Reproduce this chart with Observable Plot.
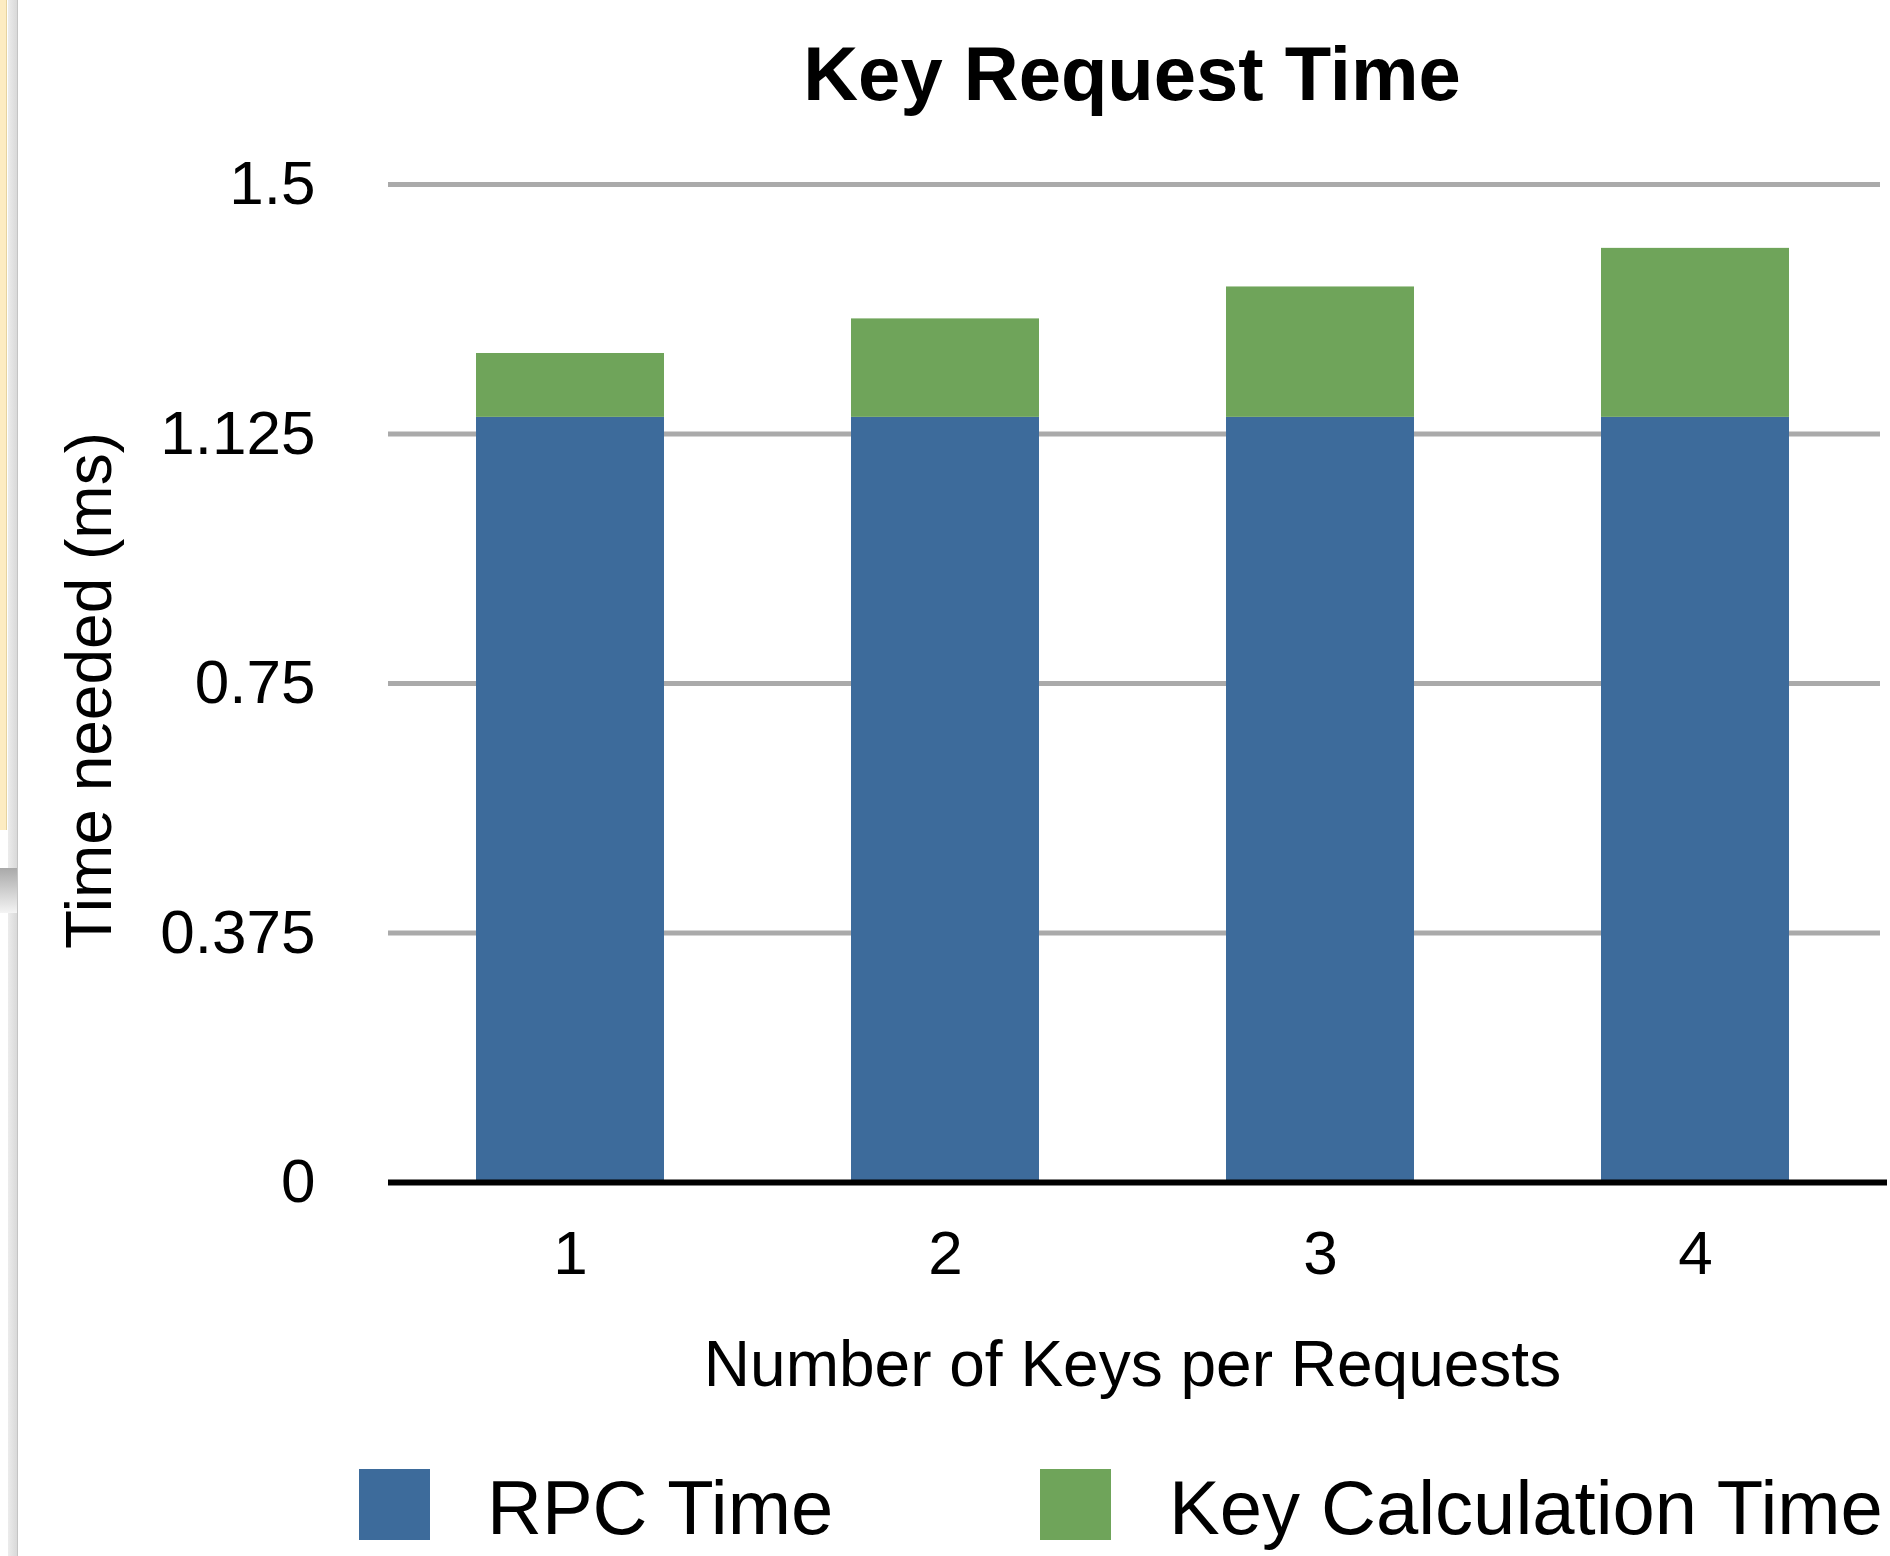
<!DOCTYPE html>
<html>
<head>
<meta charset="utf-8">
<script src="https://cdn.jsdelivr.net/npm/d3@7"></script>
<script src="https://cdn.jsdelivr.net/npm/@observablehq/plot@0.6"></script>
<style>
  html, body { margin: 0; padding: 0; background: #fff; }
  body { width: 1890px; height: 1556px; overflow: hidden; position: relative;
         font-family: "Liberation Sans", Arial, Helvetica, sans-serif; color: #000; }
  #edge-yellow { position: absolute; left: 0; top: 0; width: 6px; height: 830px;
                 background: #fdecc2; border-right: 1px solid #e6d3a0; }
  #edge-rail { position: absolute; left: 8px; top: 0; width: 9px; height: 1556px;
               background: linear-gradient(to right, #ececec, #d9d9d9); border-right: 1px solid #c4c4c4; }
  #edge-tab { position: absolute; left: 0; top: 868px; width: 17px; height: 45px;
              background: linear-gradient(to bottom, #a9a9a9, #f4f4f4); }
  #title { height: 84px; padding-top: 36px; line-height: 76px; font-size: 76px; font-weight: bold;
           margin-left: 382px; width: 1500px; text-align: center; white-space: nowrap; }
  #chart svg { display: block; }
  #legend { position: relative; height: 136px; white-space: nowrap; font-size: 76px; }
  #legend .sw { position: absolute; top: 49px; width: 71px; height: 71px; }
  #legend .lb { position: absolute; top: 50px; line-height: 76px; }
</style>
</head>
<body>
<div id="edge-yellow"></div>
<div id="edge-rail"></div>
<div id="edge-tab"></div>
<div id="title">Key Request Time</div>
<div id="chart"></div>
<div id="legend"></div>
<script>
// Keys per request (x categories)
const keys = [1, 2, 3, 4];
// Series: time spent in ms
const seriesNames = ["RPC Time", "Key Calculation Time"];
const rpcTime = [1.15, 1.15, 1.15, 1.15];
const keyCalcTime = [0.096, 0.148, 0.196, 0.254];
const seriesColors = ["#3d6b9b", "#6fa45a"];
// Y axis ticks
const yTicks = [0, 0.375, 0.75, 1.125, 1.5];
const yTickLabels = ["0", "0.375", "0.75", "1.125", "1.5"];
const xLabel = "Number of Keys per Requests";
const yLabel = "Time needed (ms)";

// Tidy rows for stacking; RPC first so it sits at the bottom
const rows = [
  ...keys.map((k, i) => ({key: k, series: seriesNames[0], value: rpcTime[i]})),
  ...keys.map((k, i) => ({key: k, series: seriesNames[1], value: keyCalcTime[i]}))
];

const chart = Plot.plot({
  width: 1890,
  height: 1300,
  marginTop: 64,
  marginBottom: 238,
  marginLeft: 382,
  marginRight: 8,
  style: {fontFamily: '"Liberation Sans", Arial, Helvetica, sans-serif', color: "#000", background: "transparent"},
  x: {type: "band", domain: keys, paddingInner: 0.5, paddingOuter: 0.25},
  y: {domain: [0, 1.5]},
  color: {domain: seriesNames, range: seriesColors},
  marks: [
    Plot.ruleY(yTicks.slice(1), {stroke: "#aaaaaa", strokeWidth: 5, insetLeft: 6, insetRight: 2}),
    Plot.barY(rows, Plot.stackY({x: "key", y: "value", fill: "series", order: seriesNames})),
    Plot.ruleY([0], {stroke: "#000", strokeWidth: 6, insetLeft: 6, insetRight: -5}),
    Plot.axisY({ticks: yTicks, tickFormat: (d) => yTickLabels[yTicks.indexOf(d)], tickSize: 0, tickPadding: 67, fontSize: 62, label: null}),
    Plot.axisX({tickSize: 0, tickPadding: 47, fontSize: 62, label: null}),
    Plot.text([xLabel], {frameAnchor: "bottom", dy: 183, fontSize: 64, lineAnchor: "middle", text: (d) => d}),
    Plot.text([yLabel], {frameAnchor: "left", textAnchor: "middle", rotate: -90, dx: -292, dy: 7, fontSize: 64, lineAnchor: "middle", text: (d) => d})
  ]
});
document.getElementById("chart").append(chart);

// Legend below the chart
const legend = d3.select("#legend");
const legendPos = [{sw: 359, lb: 487}, {sw: 1040, lb: 1169}];
seriesNames.forEach((name, i) => {
  legend.append("div").attr("class", "sw").style("left", legendPos[i].sw + "px").style("background", seriesColors[i]);
  legend.append("div").attr("class", "lb").style("left", legendPos[i].lb + "px").text(name);
});
</script>
</body>
</html>
